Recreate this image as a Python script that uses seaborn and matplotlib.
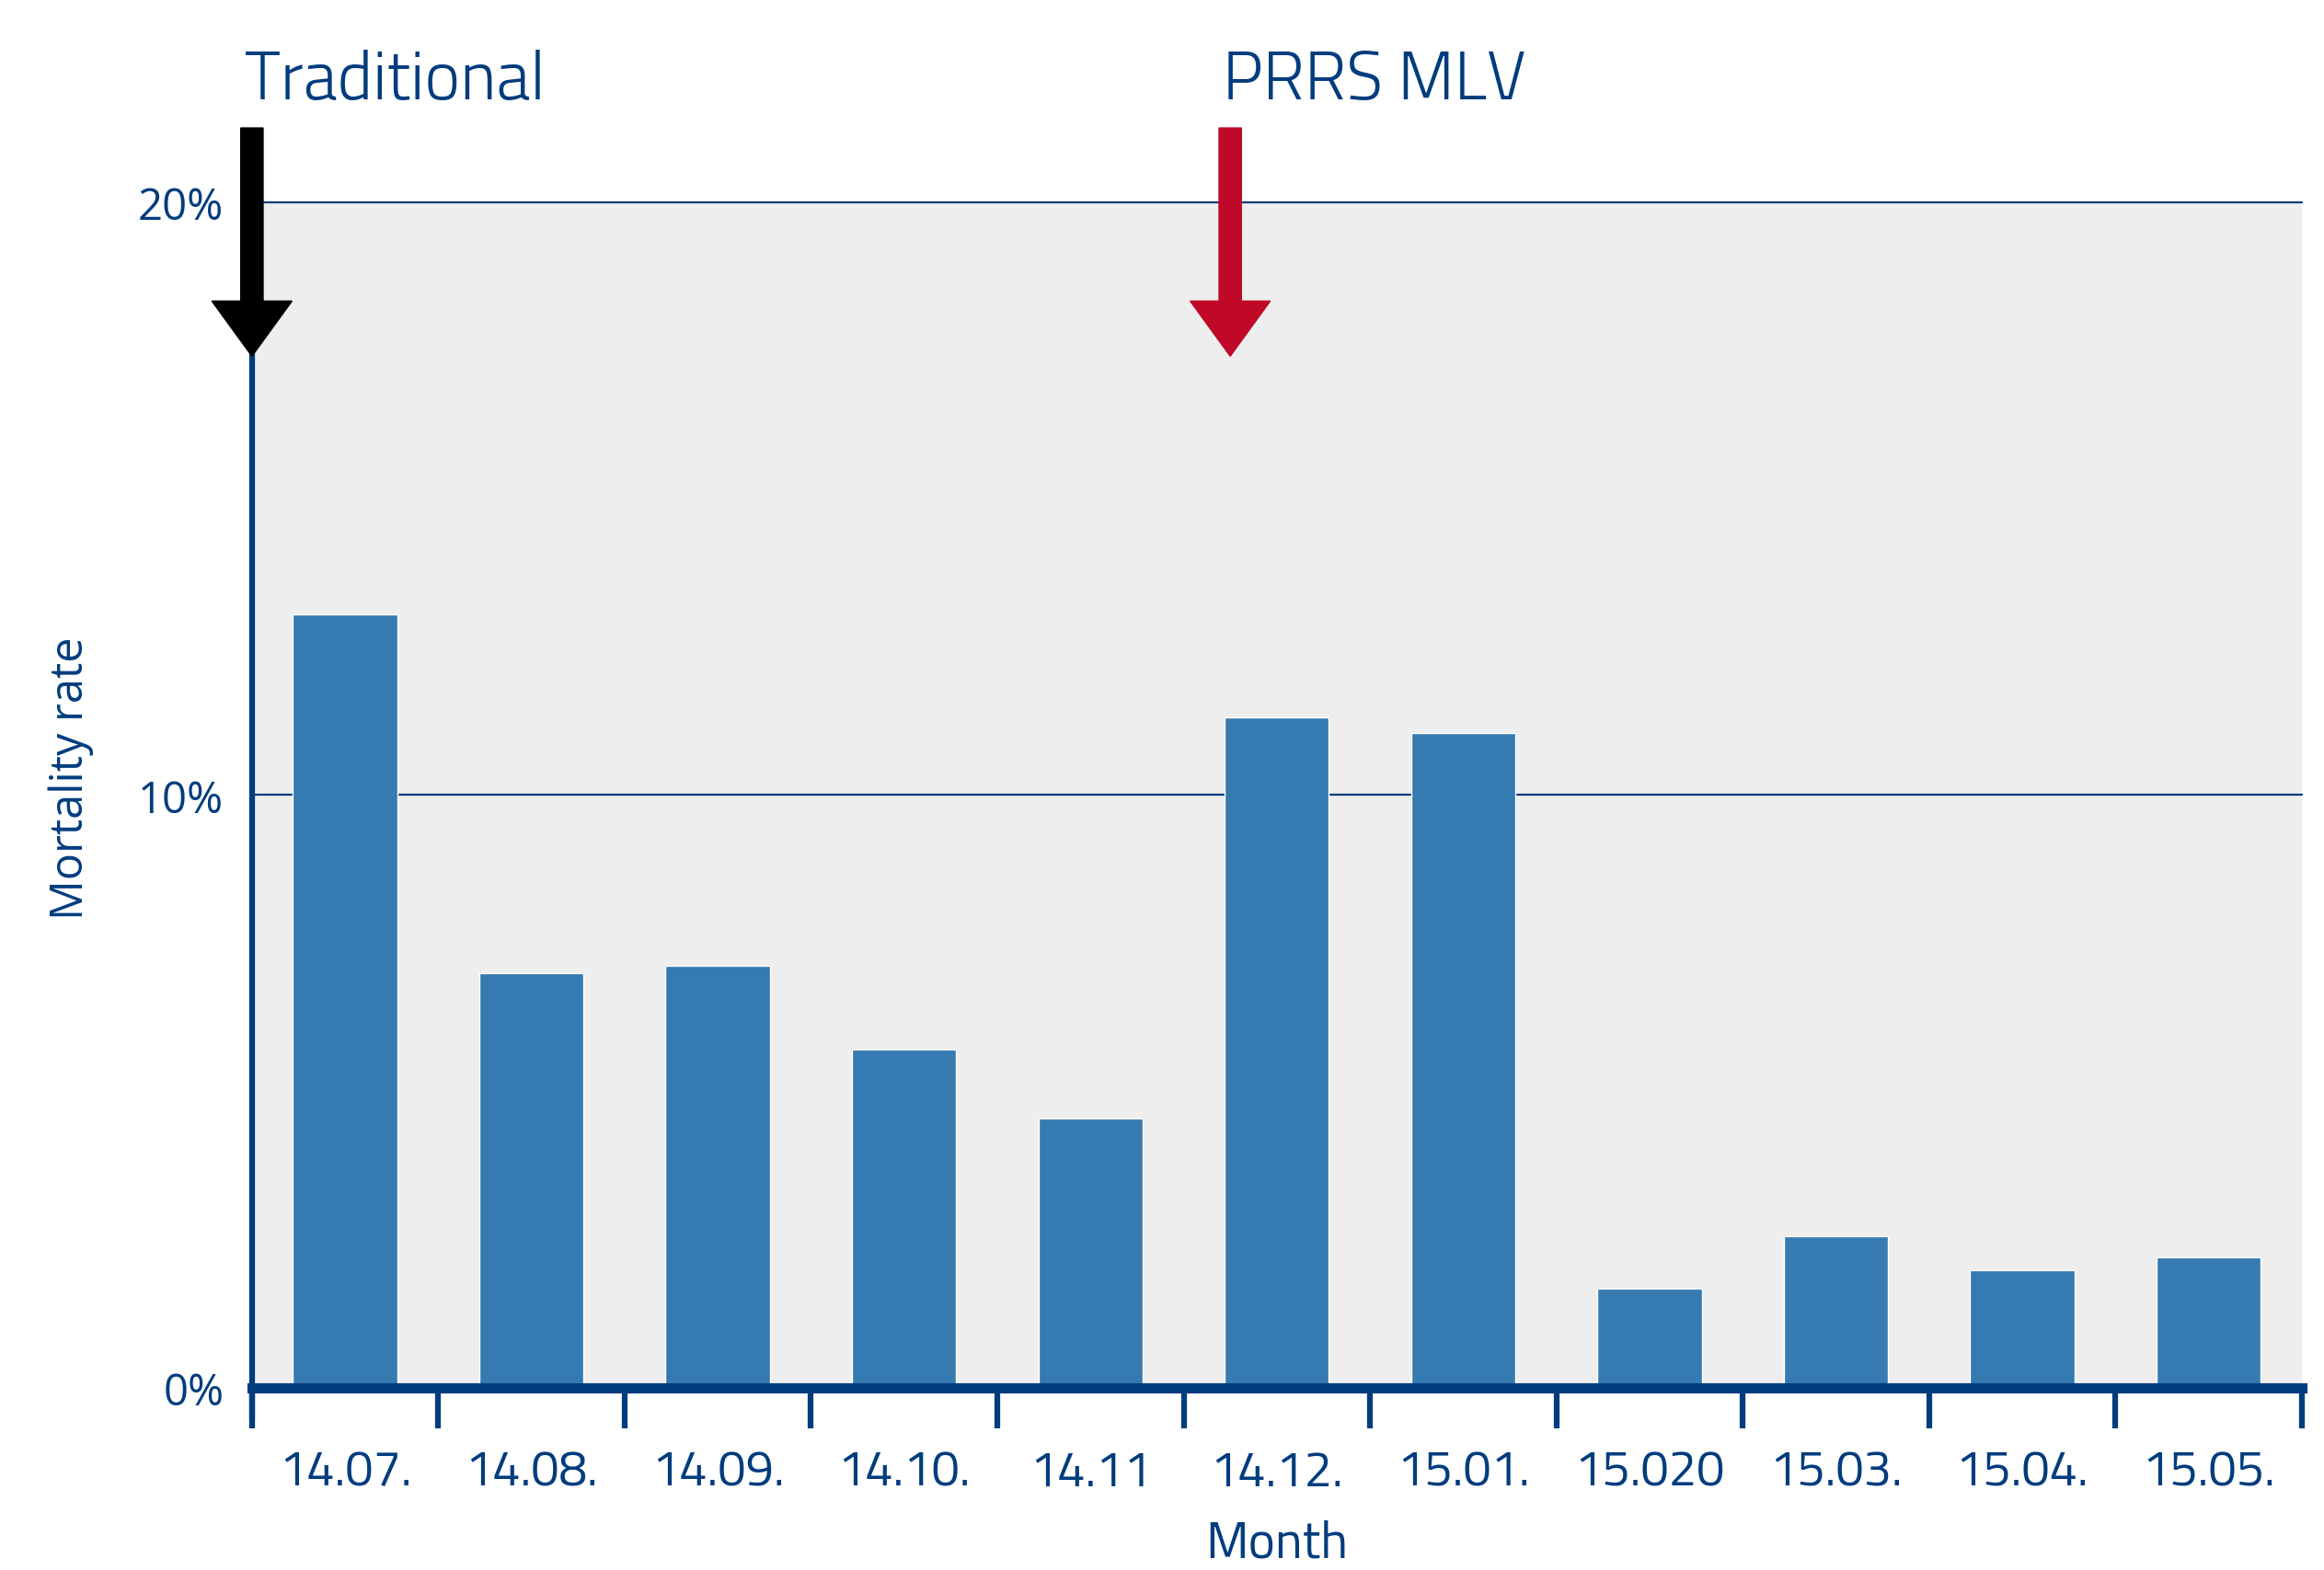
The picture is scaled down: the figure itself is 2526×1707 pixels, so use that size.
'''
Mortality rate per month, traditional vs PRRS MLV vaccination
'''

import seaborn as sns
import matplotlib
import matplotlib.pyplot as plt
import pandas as pd

matplotlib.use('Agg')

# data
months = ['14.07.', '14.08.', '14.09.', '14.10.', '14.11', '14.12.',
          '15.01.', '15.020', '15.03.', '15.04.', '15.05.']
rates = [13.05, 7.0, 7.12, 5.7, 4.55, 11.3, 11.05, 1.68, 2.55, 1.98, 2.2]

ytick_values = [0, 10, 20]
ytick_labels = ['0%', '10%', '20%']

# arrow markers: (label, x position in category units, colour)
markers = [('Traditional', -0.5, '#000000'),
           ('PRRS MLV', 4.75, '#c00828')]

NAVY = '#003c7e'
BAR = '#357ab0'
TITLE_FONT = ['Titillium Web', 'DejaVu Sans']
BODY_FONT = ['Open Sans', 'DejaVu Sans']

sns.set_theme(style='white')
plt.rcParams['font.family'] = TITLE_FONT

data = pd.DataFrame({'month': months, 'rate': rates})

fig = plt.figure(figsize=(25.26, 17.08), dpi=100)
ax = fig.add_axes([0.1084, 0.116, 0.8820, 0.7548])
ax.set_facecolor('#eeeeee')

sns.barplot(data=data, x='month', y='rate', color=BAR, saturation=1,
            width=0.56, ax=ax, zorder=2)

ax.set_xlim(-0.5, len(months) - 0.5)
ax.set_ylim(0, 20)

#horizontal grid
ax.set_yticks(ytick_values)
ax.set_yticklabels(ytick_labels, family=BODY_FONT, fontsize=34, color=NAVY)
ax.yaxis.grid(True, color=NAVY, linewidth=1.6, zorder=1)
ax.set_axisbelow(True)
for gl in ax.get_ygridlines():
    gl.set_clip_on(False)
ax.tick_params(axis='y', length=0, pad=22)

#category labels, boundary ticks
ax.tick_params(axis='x', which='major', length=0, pad=48,
               labelsize=39, labelcolor=NAVY)
ax.set_xticks([i - 0.5 for i in range(len(months) + 1)], minor=True)
ax.tick_params(axis='x', which='minor', bottom=True, length=32, width=4.5,
               color=NAVY, direction='out')

for side in ['top', 'right']:
    ax.spines[side].set_visible(False)
ax.spines['left'].set_color(NAVY)
ax.spines['left'].set_linewidth(4.5)
ax.spines['left'].set_bounds(-0.5, 20)
ax.spines['bottom'].set_color(NAVY)
ax.spines['bottom'].set_linewidth(8)

ax.set_xlabel('Month', fontsize=40, color=NAVY, labelpad=18)
ax.set_ylabel('Mortality rate', family=BODY_FONT, fontsize=35, color=NAVY)
ax.yaxis.set_label_coords(-0.077, 0.515)

#arrows with labels above the plot
for label, xpos, col in markers:
    ax.arrow(xpos, 21.25, 0, -3.85, width=0.12, head_width=0.43,
             head_length=0.93, length_includes_head=True, color=col,
             clip_on=False, zorder=5)
    ax.text(xpos - 0.04, 21.75, label, fontsize=53, fontweight=300,
            color=NAVY, ha='left', va='baseline', clip_on=False)

fig.savefig('out.png', dpi=100)
plt.close(fig)
